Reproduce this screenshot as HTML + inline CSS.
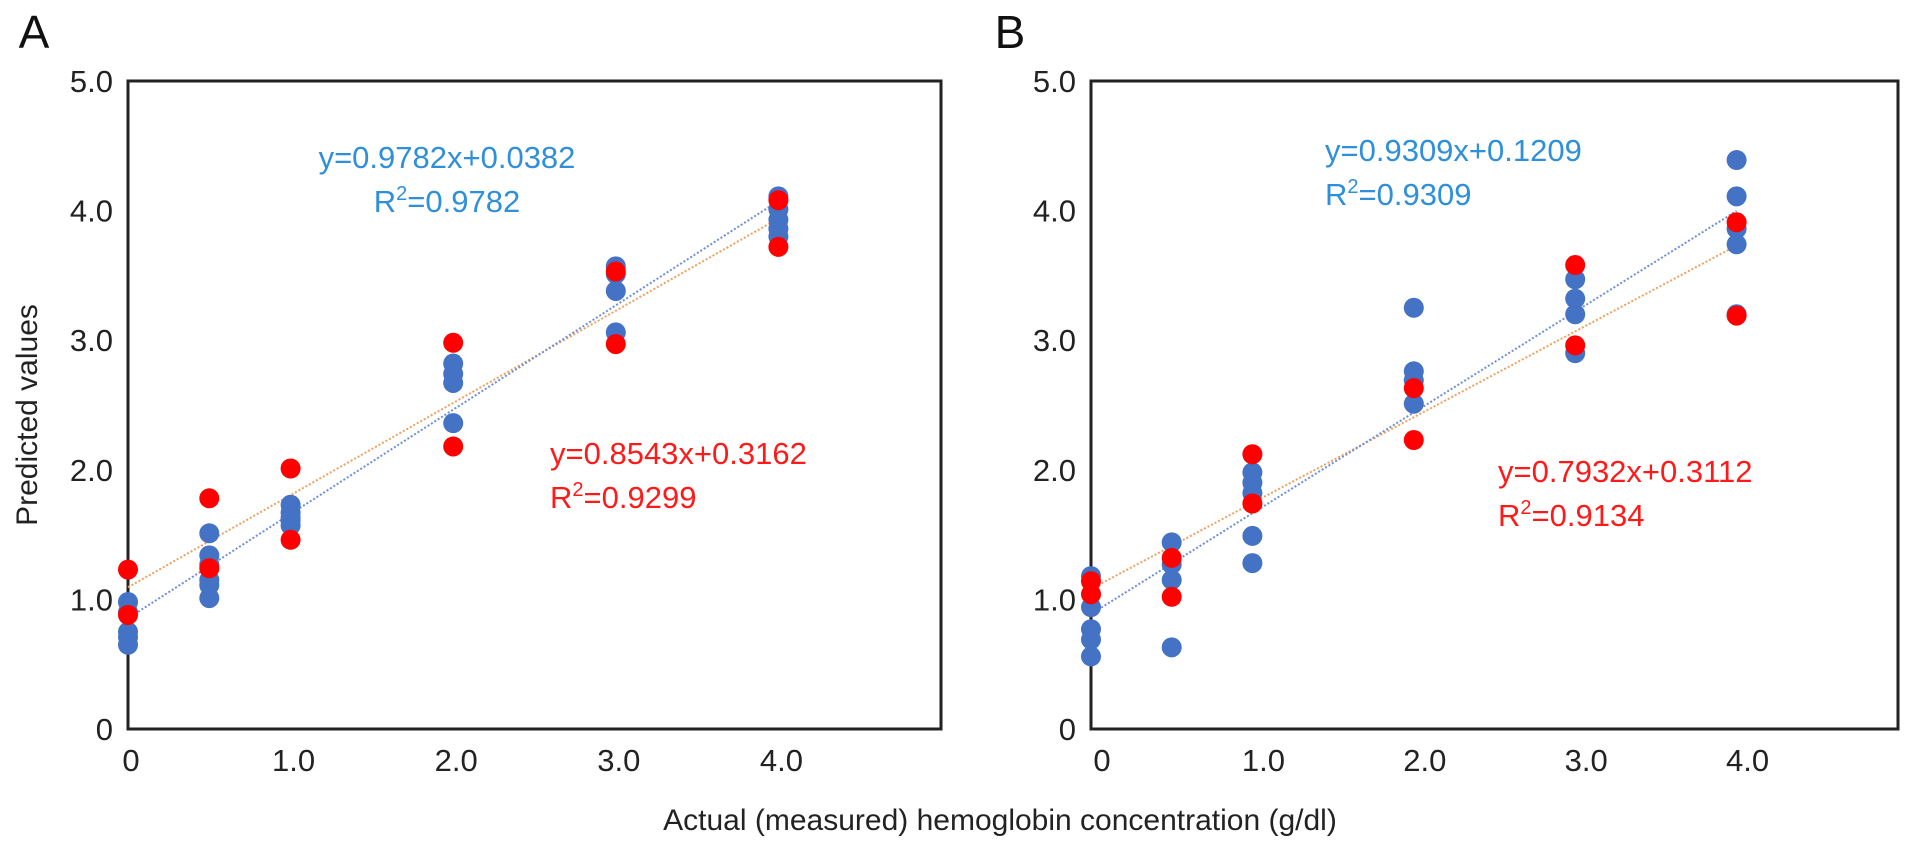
<!DOCTYPE html>
<html><head><meta charset="utf-8"><style>
html,body{margin:0;padding:0;background:#fff;}
svg{display:block;font-family:"Liberation Sans",Arial,sans-serif;}
</style></head><body>
<svg id="fig" width="1913" height="850" viewBox="0 0 1913 850"></svg>
<script>
// Panel A data
const catsA = [0,0.5,1,2,3,4];
const blueA = [[0.98,0.90,0.75,0.65,0.71],[1.51,1.34,1.27,1.15,1.11,1.01],[1.73,1.67,1.61,1.57,1.63],[2.82,2.74,2.67,2.36],[3.57,3.51,3.38,3.06],[4.11,4.01,3.93,3.86,3.80]];
const redA = [[1.23,0.88],[1.78,1.24],[2.01,1.46],[2.98,2.18],[3.53,2.97],[4.08,3.72]];
// Panel B data
const catsB = [0,0.5,1,2,3,4];
const blueB = [[1.18,0.94,0.77,0.69,0.56],[1.44,1.27,1.15,0.63],[1.98,1.90,1.82,1.49,1.28],[3.25,2.76,2.69,2.51],[3.47,3.32,3.20,2.90],[4.39,4.11,3.86,3.74,3.20]];
const redB = [[1.14,1.04],[1.32,1.02],[2.12,1.74],[2.63,2.23],[3.58,2.96],[3.91,3.19]];
const yTicks = [0,1,2,3,4,5];
const yTickLabels = ["0","1.0","2.0","3.0","4.0","5.0"];
const xTicks = [0,1,2,3,4];
const xTickLabels = ["0","1.0","2.0","3.0","4.0"];

const NS="http://www.w3.org/2000/svg";
const svg=document.getElementById('fig');
function mk(tag,attrs,parent){const e=document.createElementNS(NS,tag);for(const k in attrs)e.setAttribute(k,attrs[k]);(parent||svg).appendChild(e);return e;}
function txt(s,attrs,parent){const e=mk('text',attrs,parent);e.textContent=s;return e;}

function fit(cats,groups){let n=0,sx=0,sy=0,sxx=0,sxy=0;groups.forEach((g,i)=>g.forEach(v=>{const x=cats[i];n++;sx+=x;sy+=v;sxx+=x*x;sxy+=x*v;}));const m=(n*sxy-sx*sy)/(n*sxx-sx*sx);return [m,(sy-m*sx)/n];}

function panel(id,left,right,cats,blue,red,labelOffset,letter,letterX,ann){
  const top=81,bottom=729;
  const X=v=>left+(right-left)*v/5;
  const Y=v=>bottom-(bottom-top)*v/5;
  const g=mk('g',{});
  
  
  const L=txt(letter,{x:letterX,y:48,'font-size':46,fill:'#111','text-anchor':'middle'},g);
  
  
  const box=mk('rect',{x:left,y:top,width:right-left,height:bottom-top,fill:'none',stroke:'#222','stroke-width':3},g);
  
  
  yTicks.forEach((t,i)=>{const e=txt(yTickLabels[i],{x:left-15,y:Y(t)+11,'font-size':31,'text-anchor':'end',fill:'#222'},g);
    
    });
  xTicks.forEach((t,i)=>{const e=txt(xTickLabels[i],{x:X(t)+labelOffset,y:771,'font-size':31,'text-anchor':'middle',fill:'#222'},g);
    
    });
  const fb=fit(cats,blue),fr=fit(cats,red);
  const x0=cats[0],x1=cats[cats.length-1];
  [[fr,'#f0a060','trend-line-red'],[fb,'#6f8fd6','trend-line-blue']].forEach(([f,c,n])=>{
    const l=mk('line',{x1:X(x0),y1:Y(f[1]+f[0]*x0),x2:X(x1),y2:Y(f[1]+f[0]*x1),stroke:c,'stroke-width':2,'stroke-dasharray':'2,2'},g);
    
    });
  blue.forEach((grp,i)=>grp.forEach(v=>{const c=mk('circle',{cx:X(cats[i]),cy:Y(v),r:10,fill:'#4472c4'},g);
    
    }));
  red.forEach((grp,i)=>grp.forEach(v=>{const c=mk('circle',{cx:X(cats[i]),cy:Y(v),r:10,fill:'#ff0000'},g);
    
    }));
  ann.forEach(a=>{
    const t1=txt(a.eq,{x:a.x,y:a.y,'font-size':31,fill:a.c,'text-anchor':a.anchor},g);
    
    
    const t2=mk('text',{x:a.rx,y:a.y+44,'font-size':31,fill:a.c,'text-anchor':a.anchor},g);
    t2.innerHTML='R<tspan dy="-12" font-size="20">2</tspan><tspan dy="12">='+a.r2+'</tspan>';
    
    
  });
}
panel('a',128,941,catsA,blueA,redA,3,'A',34,[
  {eq:'y=0.9782x+0.0382',r2:'0.9782',x:447,rx:447,y:168,c:'#2f8fd8',anchor:'middle'},
  {eq:'y=0.8543x+0.3162',r2:'0.9299',x:550,rx:550,y:464,c:'#ff1a1a',anchor:'start'}]);
panel('b',1091,1898,catsB,blueB,redB,11,'B',1010,[
  {eq:'y=0.9309x+0.1209',r2:'0.9309',x:1325,rx:1325,y:161,c:'#2f8fd8',anchor:'start'},
  {eq:'y=0.7932x+0.3112',r2:'0.9134',x:1498,rx:1498,y:482,c:'#ff1a1a',anchor:'start'}]);
const yt=txt('Predicted values',{x:0,y:0,'font-size':30,fill:'#222','text-anchor':'middle',transform:'translate(37,415) rotate(-90)'});


const xt=txt('Actual (measured) hemoglobin concentration (g/dl)',{x:1000,y:830,'font-size':30,fill:'#222','text-anchor':'middle'});


</script>
</body></html>
